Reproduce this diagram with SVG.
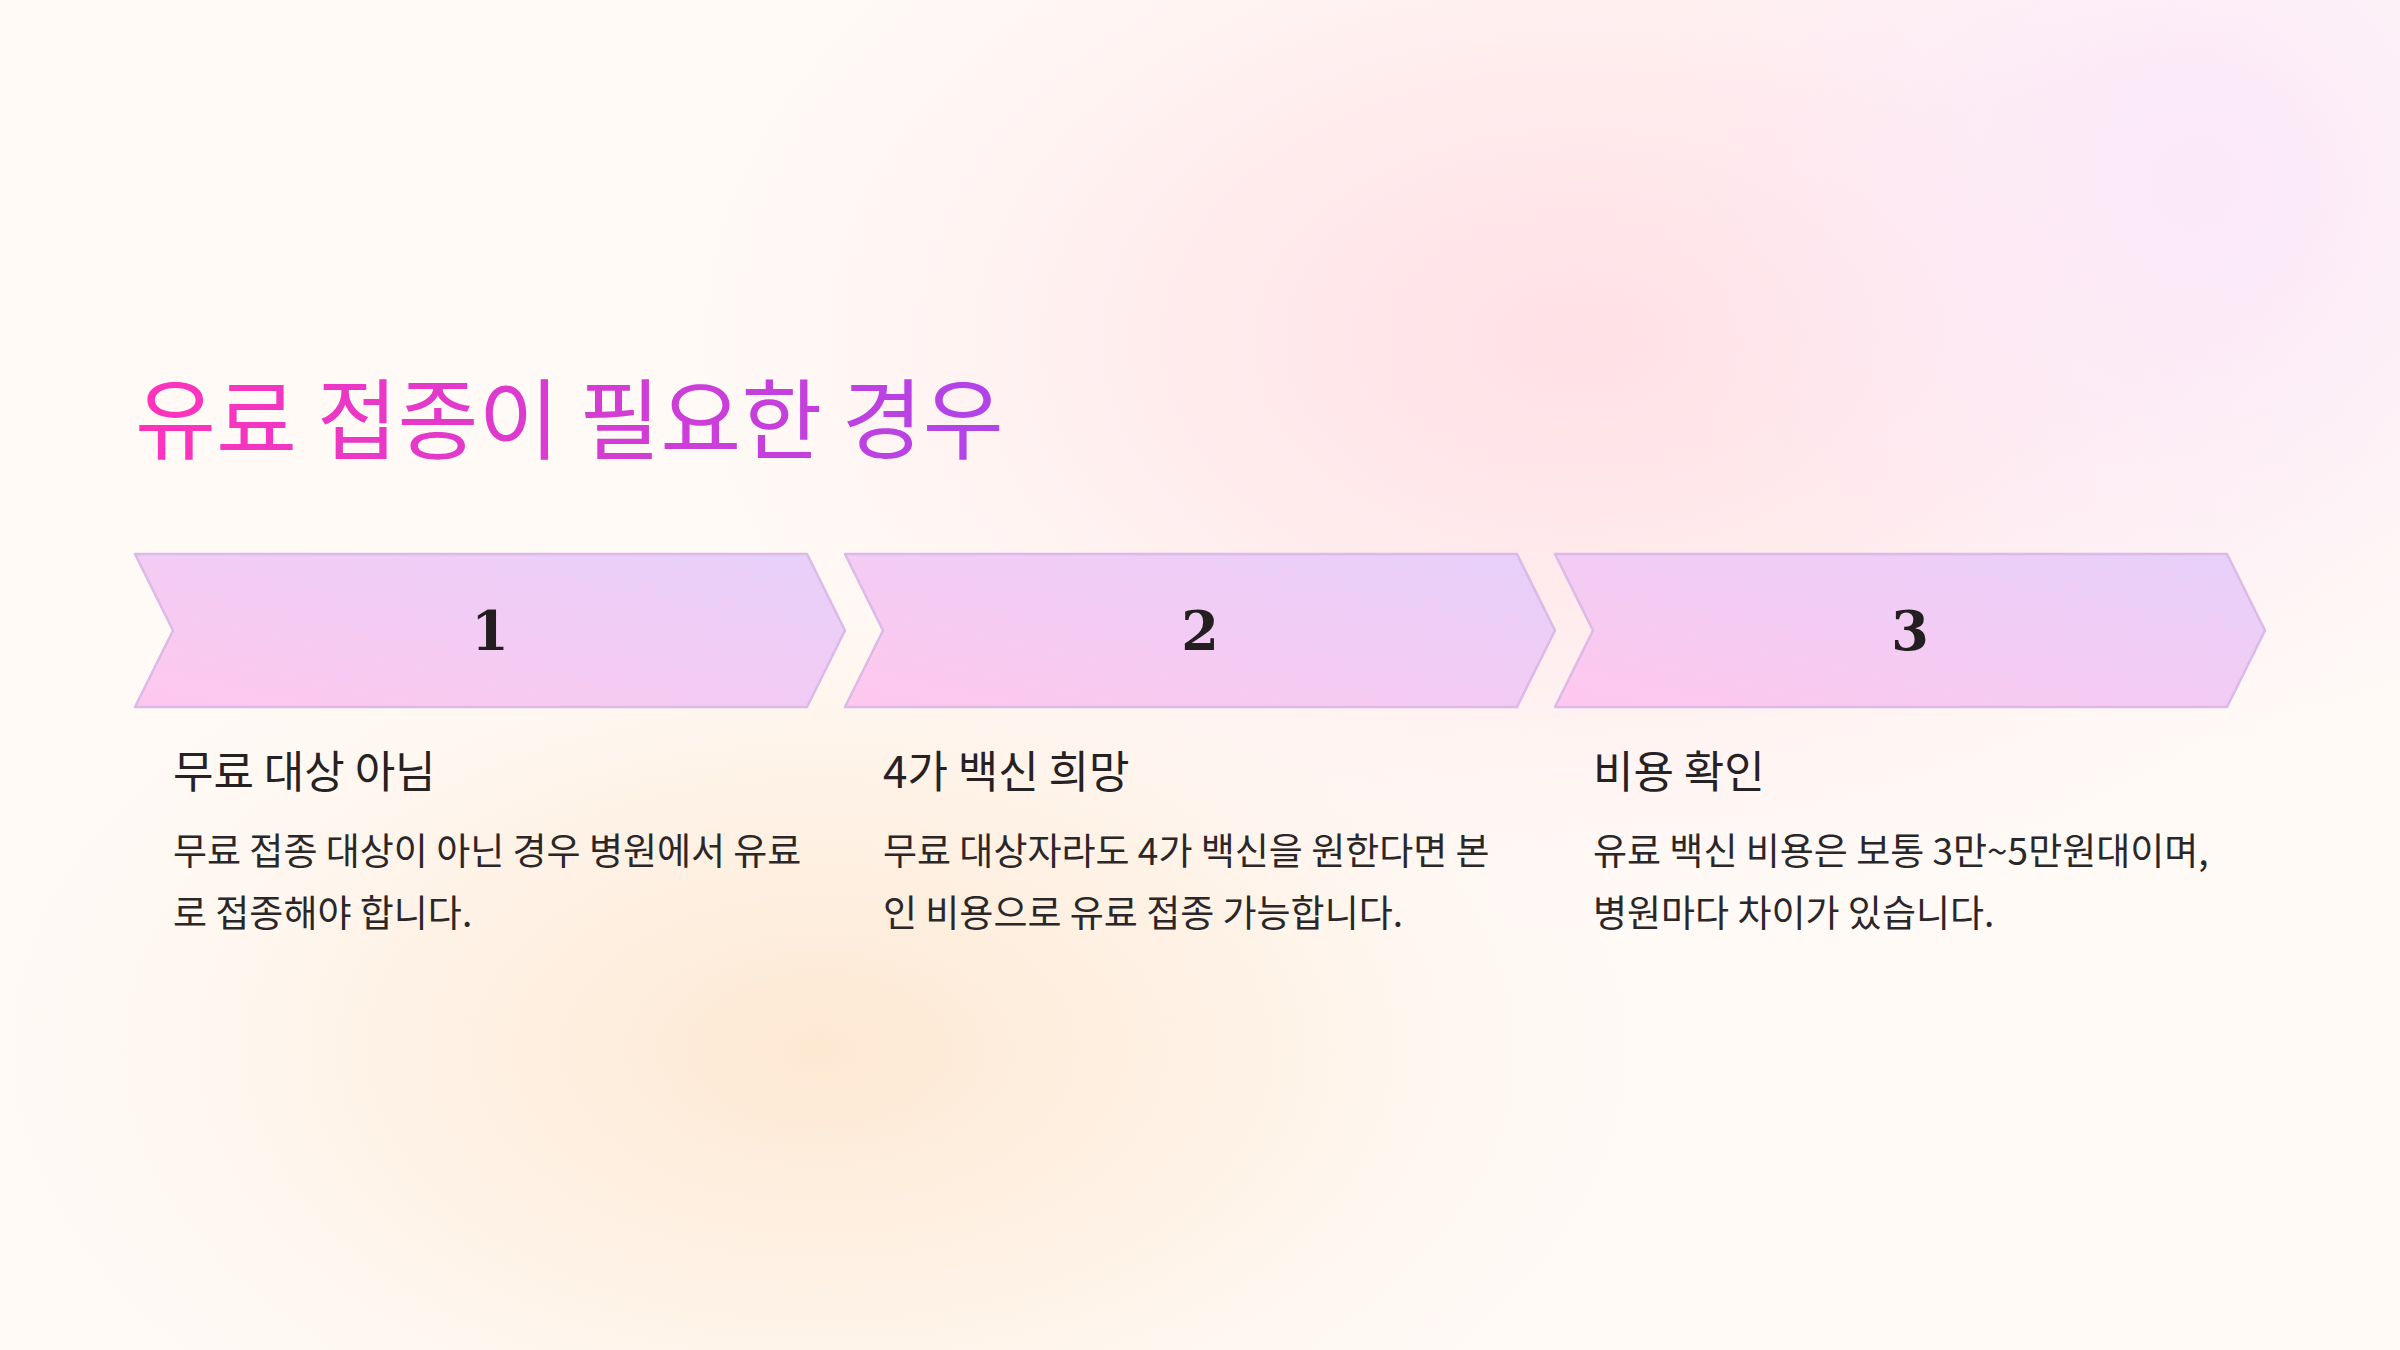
<svg xmlns="http://www.w3.org/2000/svg" width="2400" height="1350" viewBox="0 0 2400 1350">
  <defs>
    <radialGradient id="blobPink" cx="1580" cy="340" r="900" gradientUnits="userSpaceOnUse" gradientTransform="translate(1580 340) scale(1 0.65) translate(-1580 -340)">
      <stop offset="0" stop-color="#ffe0e6"/>
      <stop offset="0.45" stop-color="#ffe6ea" stop-opacity="0.75"/>
      <stop offset="1" stop-color="#fff0f2" stop-opacity="0"/>
    </radialGradient>
    <radialGradient id="blobLav" cx="2200" cy="180" r="550" gradientUnits="userSpaceOnUse">
      <stop offset="0" stop-color="#fbe8f8"/>
      <stop offset="1" stop-color="#fbe8f8" stop-opacity="0"/>
    </radialGradient>
    <radialGradient id="blobPeach" cx="820" cy="1050" r="850" gradientUnits="userSpaceOnUse" gradientTransform="translate(820 1050) scale(1 0.6) translate(-820 -1050)">
      <stop offset="0" stop-color="#fde8d2"/>
      <stop offset="0.55" stop-color="#feefe0" stop-opacity="0.65"/>
      <stop offset="1" stop-color="#fff5ec" stop-opacity="0"/>
    </radialGradient>
    <linearGradient id="titleGrad" x1="135" y1="0" x2="1000" y2="0" gradientUnits="userSpaceOnUse">
      <stop offset="0" stop-color="#ff33bb"/>
      <stop offset="1" stop-color="#b044e8"/>
    </linearGradient>
    <linearGradient id="chev" x1="0" y1="1" x2="1" y2="0">
      <stop offset="0" stop-color="#ffc8ee"/>
      <stop offset="1" stop-color="#e6d0fa"/>
    </linearGradient>
    <style>
      .chev { fill: url(#chev); stroke: #dcb9e6; stroke-width: 2.5; stroke-linejoin: round; }
      .num { font-family: "DejaVu Serif", "Liberation Serif", serif; font-weight: bold; font-size: 54px; fill: #231f20; text-anchor: middle; }
      .head { font-family: "Noto Sans CJK KR", "Noto Sans", sans-serif; font-size: 44px; fill: #262223; }
      .body { font-family: "Noto Sans CJK KR", "Noto Sans", sans-serif; font-size: 37px; fill: #2b2729; }
      .title { font-family: "Noto Sans CJK KR", "Noto Sans", sans-serif; font-size: 88px; fill: url(#titleGrad); }
    </style>
  </defs>

  <rect x="0" y="0" width="2400" height="1350" fill="#fffaf6"/>
  <rect x="0" y="0" width="2400" height="1350" fill="url(#blobPeach)"/>
  <rect x="0" y="0" width="2400" height="1350" fill="url(#blobPink)"/>
  <rect x="0" y="0" width="2400" height="1350" fill="url(#blobLav)"/>

  <text class="title" x="135" y="452">유료 접종이 필요한 경우</text>

  <g id="connectors"></g>

  <g id="step1">
    <polygon class="chev" points="135,554 807,554 845,630.5 807,707 135,707 173,630.5"/>
    <text class="num" x="490" y="650">1</text>
    <text class="head" x="173" y="788">무료 대상 아님</text>
    <text class="body" x="173" y="865">무료 접종 대상이 아닌 경우 병원에서 유료</text>
    <text class="body" x="173" y="927">로 접종해야 합니다.</text>
  </g>

  <g id="step2">
    <polygon class="chev" points="845,554 1517,554 1555,630.5 1517,707 845,707 883,630.5"/>
    <text class="num" x="1200" y="650">2</text>
    <text class="head" x="883" y="788">4가 백신 희망</text>
    <text class="body" x="883" y="865">무료 대상자라도 4가 백신을 원한다면 본</text>
    <text class="body" x="883" y="927">인 비용으로 유료 접종 가능합니다.</text>
  </g>

  <g id="step3">
    <polygon class="chev" points="1555,554 2227,554 2265,630.5 2227,707 1555,707 1593,630.5"/>
    <text class="num" x="1910" y="650">3</text>
    <text class="head" x="1593" y="788">비용 확인</text>
    <text class="body" x="1593" y="865">유료 백신 비용은 보통 3만~5만원대이며,</text>
    <text class="body" x="1593" y="927">병원마다 차이가 있습니다.</text>
  </g>
</svg>
